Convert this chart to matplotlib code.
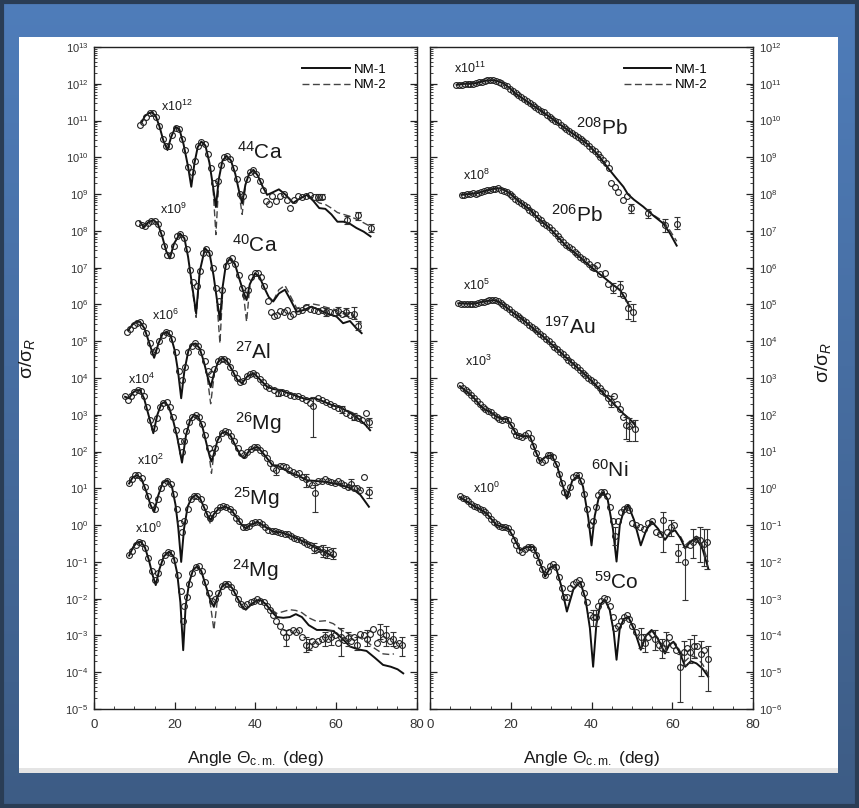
import numpy as np
import matplotlib
matplotlib.use("Agg")
from matplotlib import pyplot as plt
from matplotlib.patches import Rectangle
from matplotlib.ticker import LogLocator, MultipleLocator, NullFormatter, LogFormatterSciNotation

plt.rcParams["font.family"] = ["Liberation Sans", "DejaVu Sans"]
plt.rcParams["mathtext.fontset"] = "custom"
plt.rcParams["mathtext.rm"] = "Liberation Sans"
plt.rcParams["mathtext.it"] = "Liberation Sans:italic"
plt.rcParams["mathtext.default"] = "regular"

# All values are log10(sigma/sigma_R) as displayed (offset factor included)
# (angle, lg) pairs

# ---------------- left panel ----------------
ca44_nm1 = [(11.8, 10.95), (12.6, 11.12), (13.5, 11.2), (14.4, 11.22), (15.3, 11.12), (16.2, 10.85),
            (17.2, 10.45), (18.2, 10.2), (19.1, 10.55), (20.2, 10.83), (21.2, 10.75), (22.2, 10.35),
            (23.3, 9.75), (24.1, 9.2), (24.9, 9.85), (25.7, 10.28), (26.6, 10.43), (27.6, 10.32),
            (28.6, 9.85), (29.5, 9.2), (30.2, 8.65), (30.9, 9.4), (31.8, 9.9), (32.8, 10.04),
            (33.9, 9.92), (35.0, 9.55), (35.9, 9.1), (36.7, 8.75), (37.5, 9.25), (38.4, 9.55),
            (39.5, 9.66), (40.6, 9.5), (41.8, 9.2), (42.9, 8.98), (44.3, 9.05), (45.8, 9.13),
            (47.5, 8.98), (49.3, 8.76), (51.0, 8.88), (52.8, 8.98), (54.3, 8.82), (55.8, 8.62),
            (57.3, 8.6), (58.8, 8.45), (60.3, 8.25), (61.8, 8.25), (63.3, 8.2), (65.0, 8.08),
            (66.8, 7.98), (68.5, 7.85)]
ca44_nm2 = [[(29.5, 9.15), (30.2, 7.9), (30.9, 9.3)],
            [(35.9, 9.05), (36.7, 8.45), (37.5, 9.2)],
            [(52.8, 8.98), (54.3, 8.88), (55.8, 8.76), (57.3, 8.72), (58.8, 8.62), (60.3, 8.5),
             (61.8, 8.45), (63.3, 8.4), (65.0, 8.32), (66.8, 8.22), (68.5, 8.12)]]
ca44_pts = [(11.5, 10.88), (12.2, 10.95), (13.0, 11.1), (13.8, 11.2), (14.6, 11.2), (15.4, 11.1),
            (16.2, 10.85), (17.0, 10.5), (17.8, 10.3), (18.6, 10.3), (19.4, 10.6), (20.2, 10.8),
            (21.0, 10.78), (21.8, 10.5), (22.6, 10.2), (23.4, 9.75), (24.2, 9.6), (25.0, 9.9),
            (25.8, 10.3), (26.6, 10.42), (27.4, 10.35), (28.2, 10.1), (29.0, 9.7), (29.8, 9.3),
            (30.6, 9.35), (31.4, 9.8), (32.2, 10.0), (33.0, 10.05), (33.8, 9.95), (34.6, 9.7),
            (35.4, 9.4), (36.2, 9.0), (37.0, 8.95), (37.8, 9.4), (38.6, 9.6), (39.4, 9.65),
            (40.2, 9.55), (41.0, 9.35), (41.8, 9.1), (42.6, 8.8), (43.4, 8.72), (44.2, 8.95),
            (45.0, 8.8), (46.0, 8.95), (47.0, 9.0), (47.8, 8.85), (48.6, 8.62), (49.5, 8.85),
            (50.5, 8.95), (51.5, 8.93), (52.5, 8.95), (53.5, 8.98), (54.5, 8.93), (55.5, 8.92),
            (56.5, 8.93), (62.6, 8.3), (65.5, 8.42), (68.5, 8.08)]
ca44_bars = [(55.5, 8.85, 9.0), (56.5, 8.86, 9.0), (62.6, 8.2, 8.4), (65.5, 8.3, 8.52), (68.5, 7.98, 8.18)]

ca40_nm1 = [(11.4, 8.25), (12.3, 8.1), (13.3, 8.22), (14.7, 8.3), (15.8, 8.2), (16.9, 7.85),
            (17.9, 7.45), (18.8, 7.25), (19.8, 7.65), (21.3, 7.93), (22.4, 7.8), (23.3, 7.3),
            (24.2, 6.6), (25.3, 5.76), (26.2, 6.9), (27.5, 7.53), (28.6, 7.4), (29.6, 6.8),
            (30.5, 6.1), (31.2, 5.58), (31.9, 6.5), (32.7, 7.1), (33.7, 7.25), (34.9, 7.1),
            (36.0, 6.7), (37.0, 6.35), (37.8, 6.12), (38.6, 6.55), (39.9, 6.85), (41.0, 6.75),
            (42.2, 6.45), (43.3, 6.2), (44.4, 6.08), (45.8, 6.3), (47.3, 6.4), (48.8, 6.1),
            (50.2, 5.8), (52.0, 5.85), (53.9, 5.94), (55.8, 5.85), (57.6, 5.76), (60.1, 5.67),
            (61.7, 5.49), (63.4, 5.55), (65.0, 5.35), (66.3, 5.22)]
ca40_nm2 = [[(24.2, 6.55), (25.3, 5.65), (26.2, 6.85)],
            [(30.5, 6.0), (31.2, 4.94), (31.9, 6.4)],
            [(37.0, 6.3), (37.8, 5.53), (38.6, 6.5)],
            [(44.4, 6.1), (45.8, 6.4), (47.3, 6.52), (48.8, 6.2), (50.2, 5.9), (52.0, 5.95),
             (53.9, 6.02), (55.8, 5.98), (57.6, 5.92), (60.1, 5.85), (61.7, 5.75), (63.4, 5.78),
             (65.0, 5.6), (66.3, 5.48)]]
ca40_pts = [(11.0, 8.22), (11.8, 8.15), (12.6, 8.12), (13.4, 8.22), (14.2, 8.28), (15.0, 8.28),
            (15.8, 8.18), (16.6, 7.95), (17.4, 7.6), (18.2, 7.35), (19.0, 7.35), (19.8, 7.6),
            (20.6, 7.85), (21.4, 7.92), (22.2, 7.82), (23.0, 7.5), (23.8, 6.95), (24.6, 6.6),
            (25.4, 6.5), (26.2, 6.9), (27.0, 7.4), (27.8, 7.5), (28.6, 7.4), (29.4, 7.0),
            (30.2, 6.45), (31.0, 6.1), (31.8, 6.4), (32.6, 7.05), (33.4, 7.2), (34.2, 7.25),
            (35.0, 7.1), (35.8, 6.8), (36.6, 6.45), (37.4, 6.25), (38.2, 6.4), (39.0, 6.75),
            (39.8, 6.85), (40.6, 6.85), (41.4, 6.75), (42.2, 6.5), (43.0, 6.1), (43.8, 5.8),
            (44.6, 5.7), (45.4, 5.72), (46.2, 5.82), (47.0, 5.8), (47.8, 5.85), (48.6, 5.7),
            (49.4, 5.75), (50.5, 5.82), (51.5, 5.85), (52.5, 5.93), (53.5, 5.88), (54.5, 5.85),
            (55.5, 5.82), (56.5, 5.84), (57.5, 5.8), (58.5, 5.8), (59.5, 5.78), (60.5, 5.82),
            (61.5, 5.75), (62.5, 5.8), (63.5, 5.72), (64.5, 5.73), (65.5, 5.42)]
ca40_bars = [(57.5, 5.7, 5.9), (60.5, 5.72, 5.92), (62.5, 5.68, 5.9), (64.5, 5.6, 5.92), (65.5, 5.3, 5.55)]

al27_nm1 = [(8.5, 5.3), (9.5, 5.45), (10.5, 5.53), (11.4, 5.53), (12.5, 5.35), (13.7, 4.95),
            (14.9, 4.55), (16.0, 4.95), (17.0, 5.2), (18.0, 5.26), (19.0, 5.15), (20.0, 4.75),
            (20.8, 4.2), (21.6, 3.45), (22.4, 4.2), (23.4, 4.75), (24.3, 4.92), (25.2, 4.94),
            (26.2, 4.8), (27.2, 4.45), (28.1, 4.05), (28.9, 3.75), (29.8, 4.15), (30.8, 4.45),
            (31.8, 4.54), (33.0, 4.45), (34.3, 4.2), (35.5, 3.95), (36.7, 3.86), (38.0, 4.05),
            (39.6, 4.13), (41.2, 3.95), (42.9, 3.76), (44.5, 3.7), (46.2, 3.67), (47.8, 3.6),
            (49.5, 3.54), (51.2, 3.47), (52.8, 3.42), (54.5, 3.45), (56.0, 3.4), (57.5, 3.33),
            (59.3, 3.25), (61.0, 3.2), (62.7, 3.1), (64.2, 3.0), (66.0, 2.85), (67.3, 2.72),
            (68.4, 2.58)]
al27_nm2 = [[(28.1, 4.0), (28.9, 3.3), (29.8, 4.1)],
            [(62.7, 3.12), (64.2, 3.05), (66.0, 2.95), (67.3, 2.88), (68.4, 2.8)]]
al27_pts = [(8.3, 5.25), (9.0, 5.32), (9.8, 5.45), (10.6, 5.5), (11.4, 5.52), (12.2, 5.42),
            (13.0, 5.22), (13.8, 4.95), (14.6, 4.7), (15.4, 4.75), (16.2, 5.0), (17.0, 5.18),
            (17.8, 5.25), (18.6, 5.22), (19.4, 5.05), (20.2, 4.72), (21.0, 4.2), (21.8, 3.95),
            (22.6, 4.3), (23.4, 4.72), (24.2, 4.88), (25.0, 4.94), (25.8, 4.88), (26.6, 4.7),
            (27.4, 4.45), (28.2, 4.2), (29.0, 4.1), (29.8, 4.25), (30.6, 4.45), (31.4, 4.52),
            (32.2, 4.52), (33.0, 4.45), (33.8, 4.3), (34.6, 4.15), (35.4, 4.0), (36.2, 3.9),
            (37.0, 3.92), (37.8, 4.05), (38.6, 4.12), (39.4, 4.14), (40.2, 4.08), (41.0, 3.98),
            (41.8, 3.88), (42.6, 3.78), (43.4, 3.72), (44.5, 3.68), (45.5, 3.6), (46.5, 3.62),
            (47.5, 3.6), (48.5, 3.55), (49.5, 3.52), (50.5, 3.52), (51.5, 3.45), (52.5, 3.4),
            (53.5, 3.32), (54.3, 3.25), (55.5, 3.45), (56.5, 3.4), (57.5, 3.35), (58.5, 3.3),
            (59.5, 3.25), (60.5, 3.18), (61.5, 3.15), (62.5, 3.05), (63.5, 3.0), (64.5, 2.95),
            (65.5, 2.9), (66.5, 2.85), (67.3, 3.05), (68.2, 2.8)]
al27_bars = [(45.5, 3.5, 3.7), (54.3, 2.4, 3.49), (61.5, 3.05, 3.25), (64.5, 2.85, 3.05), (68.2, 2.68, 2.92)]

mg26_nm1 = [(7.7, 3.49), (8.7, 3.45), (9.6, 3.6), (10.5, 3.67), (11.4, 3.67), (12.4, 3.45),
            (13.5, 3.0), (14.7, 2.5), (15.7, 3.0), (16.7, 3.3), (17.6, 3.35), (18.6, 3.2),
            (19.6, 2.85), (20.6, 2.4), (21.8, 1.7), (22.8, 2.45), (23.8, 2.85), (24.8, 3.0),
            (25.8, 2.95), (26.8, 2.7), (27.9, 2.2), (28.7, 1.85), (29.1, 1.73), (29.6, 1.9),
            (30.6, 2.3), (31.6, 2.5), (32.6, 2.54), (33.9, 2.42), (35.3, 2.1), (36.3, 1.9),
            (37.2, 1.82), (38.6, 2.05), (40.5, 2.13), (42.3, 1.9), (44.2, 1.63), (45.5, 1.62),
            (47.0, 1.52), (48.8, 1.42), (50.5, 1.35), (52.8, 1.22), (55.0, 1.2), (57.8, 1.17),
            (60.0, 1.12), (62.7, 1.04), (64.5, 0.95), (66.0, 0.82), (68.1, 0.5)]
mg26_nm2 = [[(28.7, 1.75), (29.1, 1.41), (29.6, 1.85)],
            [(60.0, 1.15), (62.7, 1.1), (64.5, 1.05), (66.0, 0.95), (68.1, 0.8)]]
mg26_pts = [(7.7, 3.52), (8.4, 3.4), (9.2, 3.5), (10.0, 3.62), (10.8, 3.68), (11.6, 3.65),
            (12.4, 3.5), (13.2, 3.2), (14.0, 2.85), (14.8, 2.65), (15.6, 2.9), (16.4, 3.2),
            (17.2, 3.32), (18.0, 3.36), (18.8, 3.22), (19.6, 2.95), (20.4, 2.6), (21.2, 2.3),
            (21.8, 2.0), (22.2, 2.3), (22.8, 2.55), (23.6, 2.8), (24.4, 2.95), (25.2, 3.0),
            (26.0, 2.95), (26.8, 2.75), (27.6, 2.45), (28.4, 2.1), (29.2, 1.95), (30.0, 2.1),
            (30.8, 2.35), (31.6, 2.5), (32.4, 2.55), (33.2, 2.52), (34.0, 2.42), (34.8, 2.28),
            (35.6, 2.1), (36.4, 1.95), (37.2, 1.9), (38.0, 1.98), (38.8, 2.08), (39.6, 2.12),
            (40.4, 2.12), (41.2, 2.05), (42.0, 1.95), (42.8, 1.82), (43.6, 1.68), (44.4, 1.55),
            (45.2, 1.5), (46.0, 1.62), (46.8, 1.6), (47.6, 1.58), (48.4, 1.5), (49.2, 1.45),
            (50.0, 1.38), (50.8, 1.42), (51.6, 1.3), (52.4, 1.25), (53.2, 1.15), (54.0, 1.1),
            (54.8, 0.88), (55.6, 1.2), (56.4, 1.2), (57.2, 1.25), (58.0, 1.2), (58.8, 1.18),
            (59.6, 1.15), (60.4, 1.2), (61.2, 1.15), (62.0, 1.1), (62.8, 1.05), (63.6, 1.12),
            (64.4, 1.0), (65.2, 1.02), (66.0, 0.95), (67.0, 1.3), (68.0, 0.9)]
mg26_bars = [(45.2, 1.35, 1.62), (52.4, 1.05, 1.4), (54.8, 0.37, 1.1), (63.6, 0.98, 1.25), (68.0, 0.75, 1.05)]

mg25_nm1 = [(8.7, 1.13), (9.6, 1.3), (10.7, 1.36), (11.8, 1.25), (13.0, 0.9), (14.0, 0.55),
            (14.9, 0.36), (15.9, 0.8), (17.0, 1.15), (18.2, 1.22), (19.3, 1.05), (20.2, 0.55),
            (20.9, -0.1), (21.6, -1.0), (22.3, -0.1), (23.2, 0.5), (24.2, 0.75), (25.2, 0.82),
            (26.3, 0.72), (27.4, 0.45), (28.2, 0.25), (28.9, 0.14), (29.7, 0.3), (31.0, 0.46),
            (32.6, 0.5), (34.0, 0.42), (35.5, 0.18), (36.5, 0.02), (37.6, -0.09), (39.0, 0.02),
            (40.5, 0.09), (42.5, -0.05), (44.6, -0.18), (46.5, -0.2), (48.5, -0.28), (51.2, -0.41),
            (53.0, -0.5), (54.5, -0.59), (56.2, -0.68), (57.8, -0.77), (59.4, -0.86)]
mg25_nm2 = [[(28.2, 0.22), (28.9, 0.02), (29.7, 0.28)]]
mg25_pts = [(8.6, 1.15), (9.4, 1.25), (10.2, 1.35), (11.0, 1.35), (11.8, 1.28), (12.6, 1.05),
            (13.4, 0.8), (14.2, 0.55), (15.0, 0.45), (15.8, 0.72), (16.6, 1.0), (17.4, 1.15),
            (18.2, 1.2), (19.0, 1.12), (19.8, 0.85), (20.6, 0.45), (21.4, 0.05), (21.8, -0.2),
            (22.4, 0.1), (23.2, 0.45), (24.0, 0.7), (24.8, 0.8), (25.6, 0.8), (26.4, 0.7),
            (27.2, 0.5), (28.0, 0.3), (28.8, 0.2), (29.6, 0.3), (30.4, 0.42), (31.2, 0.48),
            (32.0, 0.52), (32.8, 0.5), (33.6, 0.45), (34.4, 0.35), (35.2, 0.2), (36.0, 0.1),
            (36.8, -0.05), (37.6, -0.05), (38.4, -0.02), (39.2, 0.05), (40.0, 0.08), (40.8, 0.08),
            (41.6, 0.02), (42.4, -0.05), (43.2, -0.12), (44.0, -0.15), (44.8, -0.15), (45.6, -0.18),
            (46.4, -0.22), (47.2, -0.25), (48.0, -0.25), (48.8, -0.3), (49.6, -0.35), (50.4, -0.38),
            (51.2, -0.4), (52.0, -0.45), (52.8, -0.5), (53.6, -0.55), (54.4, -0.62), (55.2, -0.65),
            (56.0, -0.65), (56.8, -0.72), (57.6, -0.75), (58.4, -0.72), (59.2, -0.78)]
mg25_bars = [(54.4, -0.75, -0.48), (56.8, -0.88, -0.55), (57.6, -0.9, -0.6), (59.2, -0.92, -0.62)]

mg24_nm1 = [(8.7, -0.83), (9.7, -0.6), (10.6, -0.47), (11.6, -0.45), (12.6, -0.6), (13.6, -0.95),
            (14.5, -1.35), (15.3, -1.63), (16.2, -1.2), (17.3, -0.85), (18.6, -0.72), (19.7, -0.85),
            (20.6, -1.3), (21.4, -2.1), (22.1, -3.4), (22.7, -2.2), (23.6, -1.55), (24.6, -1.2),
            (25.6, -1.12), (26.6, -1.25), (27.7, -1.65), (28.7, -2.0), (29.7, -2.22), (30.6, -1.95),
            (31.8, -1.65), (33.0, -1.58), (34.3, -1.72), (35.6, -2.0), (36.6, -2.2), (37.6, -2.3),
            (39.0, -2.15), (40.3, -2.05), (41.3, -2.04), (42.6, -2.15), (44.0, -2.35), (45.3, -2.5),
            (46.9, -2.52), (48.5, -2.5), (50.0, -2.42), (51.5, -2.5), (53.2, -2.72), (55.2, -2.85),
            (57.3, -2.85), (59.3, -2.88), (61.2, -3.05), (63.4, -3.3), (65.5, -3.38), (67.5, -3.42),
            (69.5, -3.6), (71.6, -3.8), (73.5, -3.85), (75.2, -3.92), (76.6, -4.03)]
mg24_nm2 = [[(28.7, -2.05), (29.7, -2.85), (30.6, -2.0)],
            [(44.0, -2.3), (45.3, -2.4), (46.9, -2.35), (48.5, -2.3), (50.0, -2.32), (51.5, -2.38),
             (53.2, -2.52), (55.2, -2.62), (57.3, -2.6), (59.3, -2.68), (61.2, -2.85), (63.4, -2.98),
             (65.5, -3.05), (67.5, -3.15), (69.5, -3.35), (71.6, -3.5), (73.5, -3.52), (74.3, -3.5)]]
mg24_pts = [(8.7, -0.82), (9.5, -0.7), (10.3, -0.55), (11.1, -0.45), (11.9, -0.48), (12.7, -0.62),
            (13.5, -0.9), (14.3, -1.25), (15.1, -1.5), (15.9, -1.3), (16.7, -1.0), (17.5, -0.82),
            (18.3, -0.72), (19.1, -0.75), (19.9, -0.95), (20.7, -1.35), (21.5, -1.8), (22.0, -2.6),
            (22.4, -2.2), (23.0, -1.95), (23.6, -1.6), (24.4, -1.3), (25.2, -1.15), (26.0, -1.12),
            (26.8, -1.25), (27.6, -1.55), (28.4, -1.85), (29.2, -2.05), (30.0, -2.0), (30.8, -1.85),
            (31.6, -1.65), (32.4, -1.6), (33.2, -1.6), (34.0, -1.68), (34.8, -1.82), (35.6, -2.0),
            (36.4, -2.15), (37.2, -2.2), (38.0, -2.15), (38.8, -2.1), (39.6, -2.05), (40.4, -2.02),
            (41.2, -2.05), (42.0, -2.1), (42.8, -2.2), (43.6, -2.3), (44.4, -2.45), (45.2, -2.6),
            (46.0, -2.75), (46.8, -2.9), (47.6, -3.05), (48.4, -2.9), (49.2, -2.85), (50.0, -2.9),
            (50.8, -2.85), (51.6, -3.05), (52.4, -3.25), (53.2, -3.28), (54.0, -3.15), (54.8, -3.22),
            (55.6, -3.15), (56.4, -3.1), (57.2, -3.05), (58.0, -3.1), (58.8, -3.05), (59.6, -3.0),
            (60.4, -3.2), (61.2, -3.05), (62.0, -3.12), (62.8, -3.08), (63.6, -3.15), (64.4, -3.05),
            (65.2, -3.25), (66.0, -2.95), (66.8, -3.0), (67.6, -3.1), (68.4, -2.95), (69.2, -2.82),
            (70.0, -3.2), (70.8, -2.9), (71.6, -3.1), (72.4, -3.0), (73.2, -3.15), (74.0, -3.1),
            (74.8, -3.25), (75.6, -3.2), (76.4, -3.25)]
mg24_bars = [(47.6, -3.3, -2.85), (52.4, -3.45, -3.05), (53.2, -3.4, -3.1), (57.2, -3.3, -2.9),
             (58.8, -3.25, -2.85), (61.2, -3.55, -2.8), (62.8, -3.3, -2.9), (65.2, -3.4, -3.05),
             (67.6, -3.3, -2.85), (70.8, -3.1, -2.7), (72.4, -3.3, -2.75), (74.0, -3.3, -2.9),
             (76.4, -3.55, -3.05)]

# ---------------- right panel ----------------
pb208_nm1 = [(6.6, 10.97), (8.5, 11.0), (10.0, 11.0), (11.6, 11.02), (13.5, 11.08), (15.3, 11.1),
             (16.8, 11.07), (18.2, 11.01), (19.8, 10.88), (21.0, 10.75), (22.3, 10.65), (24.5, 10.48),
             (27.2, 10.29), (30.0, 10.07), (33.0, 9.83), (36.0, 9.6), (38.8, 9.38), (41.5, 9.08),
             (43.8, 8.75), (46.0, 8.45), (47.9, 8.2), (49.0, 8.0), (50.5, 7.85), (52.8, 7.66),
             (55.5, 7.4), (57.8, 7.2), (59.5, 6.92), (61.1, 6.6)]
pb208_nm2 = [[(55.5, 7.42), (57.8, 7.26), (59.5, 7.0), (61.1, 6.72)]]
pb208_pts = [(6.5, 10.97), (7.2, 10.98), (7.9, 10.98), (8.6, 10.99), (9.3, 11.0), (10.0, 10.99),
             (10.7, 11.0), (11.4, 11.02), (12.1, 11.04), (12.8, 11.06), (13.5, 11.08), (14.2, 11.1),
             (14.9, 11.1), (15.6, 11.09), (16.3, 11.08), (17.0, 11.05), (17.7, 11.02), (18.4, 10.98),
             (19.1, 10.93), (19.8, 10.87), (20.5, 10.8), (21.2, 10.74), (21.9, 10.7), (22.6, 10.64),
             (23.3, 10.58), (24.0, 10.52), (24.7, 10.47), (25.4, 10.42), (26.1, 10.37), (26.8, 10.32),
             (27.5, 10.27), (28.2, 10.22), (28.9, 10.16), (29.6, 10.1), (30.3, 10.05), (31.0, 10.0),
             (31.7, 9.95), (32.4, 9.88), (33.1, 9.82), (33.8, 9.78), (34.5, 9.73), (35.2, 9.67),
             (35.9, 9.6), (36.6, 9.55), (37.3, 9.5), (38.0, 9.45), (38.7, 9.38), (39.4, 9.3),
             (40.1, 9.24), (40.8, 9.17), (41.5, 9.1), (42.2, 9.0), (42.9, 8.92), (43.6, 8.85),
             (44.3, 8.7), (44.8, 8.29), (45.8, 8.2), (46.6, 8.07), (47.9, 7.84), (48.8, 7.95),
             (49.9, 7.61), (54.1, 7.48), (58.2, 7.16), (61.1, 7.2)]
pb208_bars = [(49.9, 7.5, 7.72), (54.1, 7.36, 7.6), (58.2, 6.98, 7.33), (61.1, 7.05, 7.38)]

pb206_nm1 = [(7.8, 7.98), (9.5, 8.0), (11.5, 8.02), (13.5, 8.08), (15.5, 8.14), (17.3, 8.16),
             (18.6, 8.1), (19.8, 8.02), (21.5, 7.85), (23.0, 7.72), (24.8, 7.57), (27.0, 7.32),
             (29.7, 7.07), (31.8, 6.82), (33.9, 6.57), (36.5, 6.35), (38.8, 6.12), (41.2, 5.9),
             (43.8, 5.67), (45.5, 5.52), (47.1, 5.39), (48.4, 5.15), (49.5, 4.94)]
pb206_pts = [(7.8, 7.97), (8.5, 7.98), (9.2, 8.0), (9.9, 8.0), (10.6, 8.02), (11.3, 8.01),
             (12.0, 8.04), (12.7, 8.06), (13.4, 8.08), (14.1, 8.1), (14.8, 8.12), (15.5, 8.14),
             (16.2, 8.15), (16.9, 8.16), (17.6, 8.12), (18.3, 8.08), (19.0, 8.05), (19.7, 8.0),
             (20.4, 7.95), (21.1, 7.88), (21.8, 7.82), (22.5, 7.77), (23.2, 7.7), (23.9, 7.65),
             (24.6, 7.58), (25.3, 7.52), (26.0, 7.45), (26.7, 7.36), (27.4, 7.3), (28.1, 7.22),
             (28.8, 7.16), (29.5, 7.1), (30.2, 7.02), (30.9, 6.95), (31.6, 6.86), (32.3, 6.78),
             (33.0, 6.7), (33.7, 6.62), (34.4, 6.55), (35.1, 6.5), (35.8, 6.43), (36.5, 6.36),
             (37.2, 6.3), (37.9, 6.24), (38.6, 6.18), (39.3, 6.1), (40.0, 6.02), (40.7, 5.98),
             (41.3, 6.07), (42.1, 5.82), (43.3, 5.85), (44.2, 5.55), (45.4, 5.44), (47.1, 5.48),
             (47.9, 5.25), (49.1, 4.9), (50.4, 4.8)]
pb206_bars = [(45.4, 5.3, 5.58), (47.1, 5.22, 5.65), (49.1, 4.6, 5.1), (50.4, 4.55, 5.0)]

au197_nm1 = [(7.0, 5.03), (9.0, 5.02), (11.0, 5.02), (13.0, 5.07), (15.7, 5.12), (17.0, 5.08),
             (18.2, 4.98), (20.5, 4.78), (23.1, 4.58), (25.5, 4.35), (28.1, 4.12), (30.5, 3.88),
             (33.0, 3.63), (35.5, 3.38), (38.0, 3.13), (40.5, 2.87), (42.9, 2.59), (44.6, 2.4),
             (46.2, 2.22), (48.0, 2.02), (49.5, 1.88), (50.8, 1.72)]
au197_pts = [(7.0, 5.03), (7.7, 5.02), (8.4, 5.02), (9.1, 5.01), (9.8, 5.0), (10.5, 5.02),
             (11.2, 5.02), (11.9, 5.04), (12.6, 5.06), (13.3, 5.08), (14.0, 5.1), (14.7, 5.11),
             (15.4, 5.12), (16.1, 5.12), (16.8, 5.1), (17.5, 5.05), (18.2, 4.99), (18.9, 4.93),
             (19.6, 4.87), (20.3, 4.8), (21.0, 4.75), (21.7, 4.7), (22.4, 4.64), (23.1, 4.58),
             (23.8, 4.52), (24.5, 4.45), (25.2, 4.38), (25.9, 4.32), (26.6, 4.27), (27.3, 4.2),
             (28.0, 4.13), (28.7, 4.06), (29.4, 4.0), (30.1, 3.93), (30.8, 3.85), (31.5, 3.78),
             (32.2, 3.72), (32.9, 3.64), (33.6, 3.57), (34.3, 3.5), (35.0, 3.43), (35.7, 3.36),
             (36.4, 3.3), (37.1, 3.23), (37.8, 3.15), (38.5, 3.08), (39.2, 3.0), (39.9, 2.95),
             (40.6, 2.88), (41.3, 2.8), (42.0, 2.72), (42.7, 2.65), (43.4, 2.6), (44.1, 2.45),
             (44.8, 2.35), (45.5, 2.5), (46.2, 2.3), (47.0, 2.15), (47.8, 1.95), (48.5, 1.72),
             (49.3, 1.7), (50.1, 1.75), (50.8, 1.62)]
au197_bars = [(44.8, 2.2, 2.5), (48.5, 1.35, 1.95), (49.3, 1.28, 1.9), (50.8, 1.28, 1.85)]

ni60_nm1 = [(7.4, 2.78), (8.5, 2.68), (9.5, 2.6), (10.5, 2.5), (11.5, 2.38), (12.4, 2.25),
            (13.5, 2.15), (14.9, 2.08), (16.5, 1.95), (17.8, 1.88), (19.0, 1.9), (20.2, 1.7),
            (21.5, 1.45), (22.8, 1.42), (24.0, 1.42), (24.8, 1.4), (26.0, 1.05), (27.2, 0.73),
            (28.5, 0.85), (30.1, 0.91), (31.5, 0.6), (32.8, 0.1), (33.9, -0.28), (35.2, 0.2),
            (36.7, 0.35), (37.9, 0.05), (39.2, -0.8), (40.0, -1.55), (40.8, -0.75), (41.8, -0.25),
            (42.9, -0.1), (44.0, -0.3), (45.3, -1.1), (46.2, -1.99), (47.0, -1.0), (48.0, -0.6),
            (49.1, -0.46), (50.5, -0.85), (52.2, -1.55), (53.5, -1.15), (54.9, -0.9), (56.5, -1.1),
            (58.2, -1.4), (59.5, -1.2), (60.7, -1.14), (62.0, -1.35), (63.2, -1.63), (64.5, -1.45),
            (66.0, -1.36), (67.5, -1.65), (68.9, -2.17)]
ni60_nm2 = [[(62.0, -1.3), (63.2, -1.55), (64.5, -1.42), (66.0, -1.3), (67.5, -1.55), (68.9, -2.0)]]
ni60_pts = [(7.4, 2.8), (8.1, 2.72), (8.8, 2.68), (9.5, 2.62), (10.2, 2.55), (10.9, 2.45),
            (11.6, 2.38), (12.3, 2.3), (13.0, 2.2), (13.7, 2.15), (14.4, 2.1), (15.1, 2.08),
            (15.8, 2.0), (16.5, 1.95), (17.2, 1.88), (17.9, 1.85), (18.6, 1.88), (19.3, 1.85),
            (20.0, 1.72), (20.7, 1.55), (21.4, 1.45), (22.1, 1.42), (22.8, 1.4), (23.5, 1.45),
            (24.2, 1.5), (24.9, 1.38), (25.6, 1.15), (26.3, 0.95), (27.0, 0.78), (27.7, 0.72),
            (28.4, 0.78), (29.1, 0.9), (29.8, 0.92), (30.5, 0.85), (31.2, 0.65), (31.9, 0.4),
            (32.6, 0.15), (33.3, -0.1), (34.0, -0.15), (34.7, 0.05), (35.4, 0.3), (36.1, 0.35),
            (36.8, 0.35), (37.5, 0.2), (38.2, -0.15), (38.9, -0.55), (39.6, -1.0), (40.3, -0.9),
            (41.0, -0.5), (41.7, -0.18), (42.4, -0.1), (43.1, -0.1), (43.8, -0.2), (44.5, -0.5),
            (45.2, -0.9), (45.9, -1.3), (46.6, -0.9), (47.3, -0.65), (48.0, -0.55), (48.7, -0.5),
            (49.4, -0.6), (50.1, -0.95), (51.0, -1.0), (52.0, -1.05), (53.0, -1.1), (54.0, -0.95),
            (55.0, -0.9), (56.0, -1.2), (57.0, -1.25), (57.8, -0.85), (58.8, -1.2), (59.6, -1.05),
            (60.4, -1.0), (61.5, -1.75), (63.2, -1.99), (64.3, -1.55), (65.2, -1.45), (66.0, -1.38),
            (66.9, -1.4), (67.8, -1.5), (68.7, -1.45)]
ni60_bars = [(45.9, -1.55, -1.05), (57.8, -1.73, -0.64), (59.6, -1.3, -0.85), (61.5, -2.0, -1.5),
             (63.2, -3.03, -1.6), (65.2, -1.9, -1.1), (66.9, -2.0, -1.05), (67.8, -2.1, -1.1),
             (68.7, -2.2, -1.1)]

co59_nm1 = [(7.4, -0.24), (9.2, -0.36), (11.1, -0.5), (12.6, -0.58), (14.0, -0.68), (15.3, -0.85),
            (16.5, -1.0), (18.0, -1.05), (19.4, -1.09), (20.8, -1.35), (22.3, -1.68), (24.0, -1.6),
            (25.6, -1.59), (27.0, -1.95), (28.5, -2.4), (29.8, -2.15), (31.0, -2.08), (32.5, -2.65),
            (33.9, -3.35), (35.5, -2.75), (37.2, -2.54), (38.5, -3.0), (39.6, -3.8), (40.4, -4.85),
            (41.2, -3.7), (42.2, -3.15), (43.3, -3.03), (44.5, -3.3), (45.5, -3.9), (46.2, -4.66),
            (47.0, -3.8), (48.0, -3.55), (49.1, -3.49), (50.6, -3.85), (52.2, -4.39), (53.5, -4.0),
            (54.9, -3.85), (56.5, -4.1), (58.2, -4.49), (59.3, -4.25), (60.3, -4.17), (61.8, -4.45),
            (63.2, -4.85), (64.6, -4.7), (66.0, -4.76), (67.5, -4.9), (68.9, -5.12)]
co59_nm2 = [[(61.8, -4.4), (63.2, -4.7), (64.6, -4.55), (66.0, -4.6), (67.5, -4.78), (68.9, -5.05)]]
co59_pts = [(7.4, -0.22), (8.1, -0.25), (8.8, -0.3), (9.5, -0.35), (10.2, -0.42), (10.9, -0.48),
            (11.6, -0.52), (12.3, -0.55), (13.0, -0.6), (13.7, -0.65), (14.4, -0.72), (15.1, -0.82),
            (15.8, -0.92), (16.5, -0.98), (17.2, -1.02), (17.9, -1.05), (18.6, -1.05), (19.3, -1.08),
            (20.0, -1.2), (20.7, -1.4), (21.4, -1.55), (22.1, -1.68), (22.8, -1.72), (23.5, -1.65),
            (24.2, -1.6), (24.9, -1.6), (25.6, -1.65), (26.3, -1.8), (27.0, -2.0), (27.7, -2.2),
            (28.4, -2.35), (29.1, -2.25), (29.8, -2.1), (30.5, -2.05), (31.2, -2.15), (31.9, -2.4),
            (32.6, -2.7), (33.3, -2.95), (34.0, -2.95), (34.7, -2.7), (35.4, -2.6), (36.1, -2.55),
            (36.8, -2.5), (37.5, -2.6), (38.2, -2.85), (38.9, -3.1), (39.6, -3.45), (40.3, -3.5),
            (41.0, -3.5), (41.7, -3.2), (42.4, -3.05), (43.1, -2.98), (43.8, -3.0), (44.5, -3.2),
            (45.2, -3.5), (45.9, -3.8), (46.6, -3.75), (47.3, -3.6), (48.0, -3.5), (48.7, -3.45),
            (49.4, -3.55), (50.1, -3.75), (51.0, -3.9), (52.2, -4.05), (53.2, -4.2), (54.0, -4.05),
            (54.9, -3.95), (55.8, -4.1), (56.6, -4.25), (57.5, -4.35), (58.4, -4.2), (59.3, -4.05),
            (60.1, -4.25), (61.0, -4.4), (61.9, -4.85), (62.8, -4.45), (63.6, -4.35), (64.5, -4.45),
            (65.3, -4.3), (66.2, -4.3), (67.0, -4.5), (67.9, -4.4), (68.8, -4.65)]
co59_bars = [(40.3, -3.75, -3.3), (41.0, -3.75, -3.3), (52.2, -4.35, -3.8), (53.2, -4.45, -3.95),
             (55.8, -4.4, -3.85), (57.5, -4.6, -4.1), (58.4, -4.45, -3.9), (61.9, -5.8, -4.5),
             (62.8, -4.8, -4.15), (64.5, -4.75, -4.1), (65.3, -4.6, -4.0), (67.0, -5.1, -4.15),
             (68.8, -5.5, -4.3)]

# labels: (text, angle, lg, size)
left_labels = [("x10$^{12}$", 20.5, 11.38, 9), ("$^{44}$Ca", 41.1, 10.15, 15),
               ("x10$^{9}$", 19.6, 8.59, 9), ("$^{40}$Ca", 39.9, 7.62, 15),
               ("x10$^{6}$", 17.6, 5.71, 9), ("$^{27}$Al", 39.5, 4.72, 15),
               ("x10$^{4}$", 11.8, 3.95, 9), ("$^{26}$Mg", 40.7, 2.77, 15),
               ("x10$^{2}$", 13.9, 1.77, 9), ("$^{25}$Mg", 40.3, 0.73, 15),
               ("x10$^{0}$", 13.4, -0.09, 9), ("$^{24}$Mg", 39.9, -1.22, 15)]
right_labels = [("x10$^{11}$", 9.9, 11.42, 9), ("$^{208}$Pb", 42.5, 9.79, 15),
                ("x10$^{8}$", 11.6, 8.52, 9), ("$^{206}$Pb", 36.3, 7.43, 15),
                ("x10$^{5}$", 11.6, 5.53, 9), ("$^{197}$Au", 34.7, 4.4, 15),
                ("x10$^{3}$", 12.0, 3.44, 9), ("$^{60}$Ni", 44.6, 0.49, 15),
                ("x10$^{0}$", 14.0, -0.01, 9), ("$^{59}$Co", 46.2, -2.54, 15)]

left_sets = [(ca44_nm1, ca44_nm2, ca44_pts, ca44_bars), (ca40_nm1, ca40_nm2, ca40_pts, ca40_bars),
             (al27_nm1, al27_nm2, al27_pts, al27_bars), (mg26_nm1, mg26_nm2, mg26_pts, mg26_bars),
             (mg25_nm1, mg25_nm2, mg25_pts, mg25_bars), (mg24_nm1, mg24_nm2, mg24_pts, mg24_bars)]
right_sets = [(pb208_nm1, pb208_nm2, pb208_pts, pb208_bars), (pb206_nm1, [], pb206_pts, pb206_bars),
              (au197_nm1, [], au197_pts, au197_bars), (ni60_nm1, ni60_nm2, ni60_pts, ni60_bars),
              (co59_nm1, co59_nm2, co59_pts, co59_bars)]


def unzip(pairs):
    a = np.array(pairs, dtype=float)
    return a[:, 0], 10.0 ** a[:, 1]


def draw_set(ax, nm1, nm2, pts, bars):
    x, y = unzip(nm1)
    ax.plot(x, y, "-", color="#111111", lw=1.4, zorder=3)
    for seg in nm2:
        x, y = unzip(seg)
        ax.plot(x, y, color="#444444", lw=1.0, dashes=(5, 2.5), zorder=2)
    b = np.array(bars, dtype=float)
    lo = 10.0 ** b[:, 1]
    hi = 10.0 ** b[:, 2]
    ax.errorbar(b[:, 0], lo, yerr=[np.zeros_like(lo), hi - lo], fmt="none",
                ecolor="#333333", elinewidth=0.8, capsize=2.5, capthick=0.8, zorder=4)
    x, y = unzip(pts)
    ax.plot(x, y, "o", ms=4.2, mfc="none", mec="#222222", mew=0.8, zorder=5)


fig = plt.figure(figsize=(8.59, 8.08), dpi=100)

# blue frame background
bg = fig.add_axes([0, 0, 1, 1])
grad = np.linspace(0, 1, 256).reshape(-1, 1)
top = np.array([0.31, 0.49, 0.73])
bot = np.array([0.24, 0.36, 0.52])
img = top[None, None, :] * (1 - grad[:, :, None]) + bot[None, None, :] * grad[:, :, None]
bg.imshow(img, extent=[0, 1, 0, 1], aspect="auto")
bg.add_patch(Rectangle((0.002, 0.002), 0.996, 0.996, fill=False, ec="#2a3d55", lw=3))
bg.add_patch(Rectangle((0.0221, 0.0433), 0.9534, 0.9109, fc="white", ec="none"))
bg.add_patch(Rectangle((0.0221, 0.0433), 0.9534, 0.006, fc="#e4e4e4", ec="none"))
bg.set_xlim(0, 1)
bg.set_ylim(0, 1)
bg.axis("off")

ax1 = fig.add_axes([0.1094, 0.1225, 0.3760, 0.8193])
ax2 = fig.add_axes([0.5006, 0.1225, 0.3760, 0.8193])

for ax, sets, labels, ylim in [(ax1, left_sets, left_labels, (1e-5, 1e13)),
                              (ax2, right_sets, right_labels, (1e-6, 1e12))]:
    for s in sets:
        draw_set(ax, *s)
    for txt, xa, lg, fs in labels:
        ax.text(xa, 10.0 ** lg, txt, fontsize=fs, ha="center", va="center", color="#1a1a1a")
    ax.set_yscale("log")
    ax.set_xlim(0, 80)
    ax.set_ylim(*ylim)
    ax.yaxis.set_major_locator(LogLocator(base=10, numticks=40))
    ax.yaxis.set_minor_locator(LogLocator(base=10, subs=np.arange(2, 10), numticks=40))
    ax.yaxis.set_major_formatter(LogFormatterSciNotation())
    ax.yaxis.set_minor_formatter(NullFormatter())
    ax.xaxis.set_major_locator(MultipleLocator(20))
    ax.xaxis.set_minor_locator(MultipleLocator(5))
    ax.tick_params(which="both", direction="in", left=True, right=True, top=False, colors="#222222")
    ax.tick_params(which="major", length=5, width=0.9)
    ax.tick_params(which="minor", length=2.5, width=0.6)
    ax.tick_params(axis="y", labelsize=8, labelcolor="#333333", pad=4)
    ax.tick_params(axis="x", labelsize=9.5, labelcolor="#333333", pad=7)
    for sp in ax.spines.values():
        sp.set_linewidth(1.0)
        sp.set_color("#222222")
    ax.set_xlabel("Angle $\\Theta_{c{.}m{.}}$ (deg)", fontsize=12.5, color="#1a1a1a", labelpad=13)
    ax.set_ylabel("$\\sigma/\\sigma_{\\mathit{R}}$", fontsize=14, color="#1a1a1a")
    ax.plot([], [], "-", color="#111111", lw=1.4, label="NM-1")
    ax.plot([], [], color="#444444", lw=1.0, dashes=(5, 2.5), label="NM-2")

ax2.yaxis.tick_right()
ax2.yaxis.set_label_position("right")
ax2.tick_params(which="both", left=True, right=True)
ax1.yaxis.set_label_coords(-0.176, 0.53)
ax2.yaxis.set_label_coords(1.186, 0.524)
ax2.yaxis.label.set_rotation(90)

ax1.legend(loc="upper right", bbox_to_anchor=(0.905, 0.975), frameon=False, fontsize=9.5,
           handlelength=3.6, handletextpad=0.3, borderpad=0, borderaxespad=0, labelspacing=0.25)
ax2.legend(loc="upper right", bbox_to_anchor=(0.86, 0.975), frameon=False, fontsize=9.5,
           handlelength=3.6, handletextpad=0.3, borderpad=0, borderaxespad=0, labelspacing=0.25)

fig.savefig("out.png", dpi=100)
